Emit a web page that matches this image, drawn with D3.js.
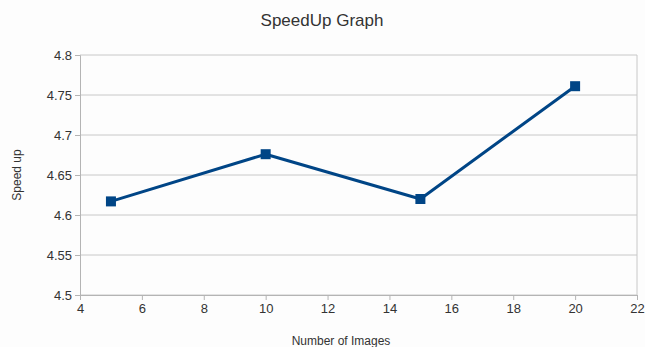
<!DOCTYPE html>
<html><head><meta charset="utf-8">
<script src="https://cdn.jsdelivr.net/npm/d3@7"></script>
<style>body{margin:0;background:#fdfdfd}svg{display:block}</style>
</head><body>
<script>
const xValues = [5, 10, 15, 20];
const speedUp = [4.617, 4.676, 4.620, 4.761];
const xTicks = [4, 6, 8, 10, 12, 14, 16, 18, 20, 22];
const yTicks = [4.5, 4.55, 4.6, 4.65, 4.7, 4.75, 4.8];
const title = "SpeedUp Graph";
const xLabel = "Number of Images";
const yLabel = "Speed up";

const W = 645, H = 347;
const m = {left: 80, right: 8, top: 55, bottom: 52};
const svg = d3.select("body").append("svg").attr("width", W).attr("height", H)
  .style("font-family", "'Liberation Sans', Arial, sans-serif");
svg.append("rect").attr("width", W).attr("height", H).attr("fill", "#fdfdfd");

const x = d3.scaleLinear().domain([4, 22]).range([m.left, W - m.right]);
const y = d3.scaleLinear().domain([4.5, 4.8]).range([H - m.bottom, m.top]);

svg.append("g").selectAll("line").data(yTicks).join("line")
  .attr("x1", x(4)).attr("x2", x(22))
  .attr("y1", d => y(d)).attr("y2", d => y(d))
  .attr("stroke", "#c8c8c8").attr("stroke-width", 1);
svg.append("line").attr("x1", x(22)).attr("x2", x(22)).attr("y1", y(4.8)).attr("y2", y(4.5))
  .attr("stroke", "#c8c8c8");

const fmt = d => String(+d.toFixed(2));
const yAxis = svg.append("g").attr("transform", `translate(${m.left},0)`)
  .call(d3.axisLeft(y).tickValues(yTicks).tickFormat(fmt).tickSize(5).tickPadding(3));
const xAxis = svg.append("g").attr("transform", `translate(0,${H - m.bottom})`)
  .call(d3.axisBottom(x).tickValues(xTicks).tickFormat(d3.format("d")).tickSize(5).tickPadding(4));
[yAxis, xAxis].forEach(a => {
  a.selectAll("path,line").attr("stroke", "#b4b4b4");
  a.selectAll("text").attr("fill", "#333").style("font-size", "13px")
    .style("font-family", "'Liberation Sans', Arial, sans-serif");
});

const pts = xValues.map((v, i) => [v, speedUp[i]]);
svg.append("path").datum(pts)
  .attr("fill", "none").attr("stroke", "#004586").attr("stroke-width", 3)
  .attr("stroke-linejoin", "round")
  .attr("d", d3.line().x(d => x(d[0])).y(d => y(d[1])));
svg.append("g").selectAll("rect").data(pts).join("rect")
  .attr("x", d => x(d[0]) - 5).attr("y", d => y(d[1]) - 5)
  .attr("width", 10).attr("height", 10).attr("fill", "#004586");

svg.append("text").attr("x", 322).attr("y", 26).attr("text-anchor", "middle")
  .style("font-size", "17px").attr("fill", "#333").text(title);
svg.append("text").attr("x", 341).attr("y", 345).attr("text-anchor", "middle")
  .style("font-size", "12px").attr("fill", "#333").text(xLabel);
svg.append("text").attr("transform", "translate(21,175) rotate(-90)").attr("text-anchor", "middle")
  .style("font-size", "12px").attr("fill", "#333").text(yLabel);
</script>
</body></html>
